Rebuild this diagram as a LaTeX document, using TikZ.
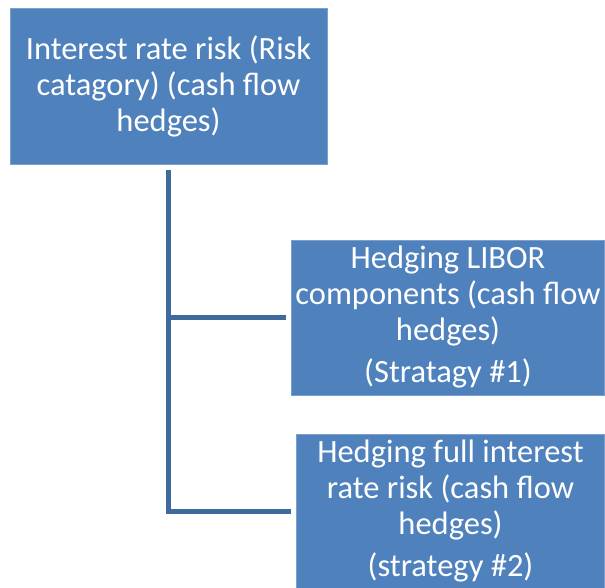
\documentclass[tikz,border=0pt]{standalone}
\usepackage{fontspec}
\setmainfont{Carlito}
\definecolor{boxblue}{HTML}{4F81BD}
\definecolor{linkblue}{HTML}{3F6A9C}
\tikzset{
  catbox/.style={rectangle,fill=boxblue,draw=boxblue!75!white,line width=0.6pt,
    text=white,align=center,inner sep=0pt,
    font=\fontsize{32.5}{36}\selectfont},
  link/.style={draw=linkblue,line width=5pt}
}
\begin{document}
\begin{tikzpicture}[x=1pt,y=-1pt]
  \useasboundingbox (0,0) rectangle (605,588);
  \node[catbox,minimum width=317pt,minimum height=156pt] (risk) at (168.5,86)
    {Interest rate risk (Risk\\catagory) (cash flow\\hedges)};
  \node[catbox,minimum width=313pt,minimum height=155pt] (libor) at (448,317.5)
    {Hedging LIBOR\\components (cash flow\\hedges)\\[6pt](Stratagy \#1)};
  \node[catbox,minimum width=308pt,minimum height=154pt] (full) at (450.5,511)
    {Hedging full interest\\rate risk (cash flow\\hedges)\\[6pt](strategy \#2)};
  \draw[link] ([yshift=-6pt]risk.south) |- ([xshift=-5pt]libor.west);
  \draw[link] ([yshift=-6pt]risk.south) |- ([xshift=-5pt]full.west);
\end{tikzpicture}
\end{document}
